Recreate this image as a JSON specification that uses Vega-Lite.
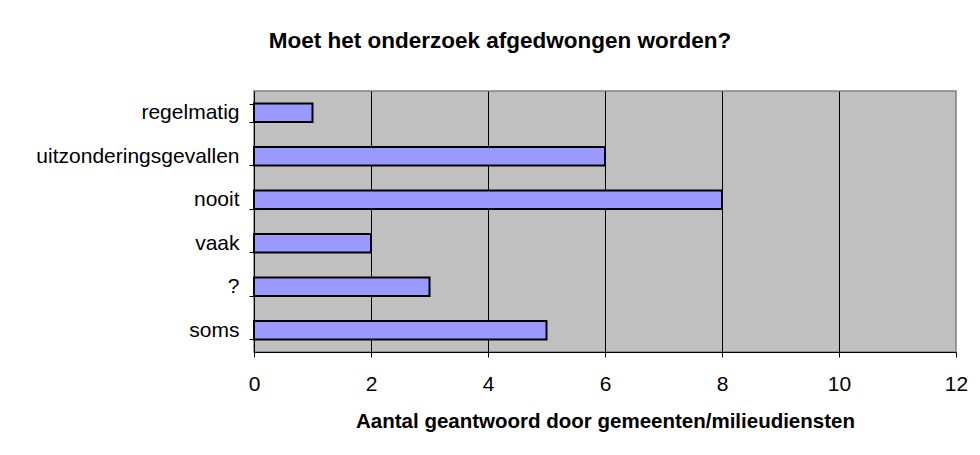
{
  "$schema": "https://vega.github.io/schema/vega-lite/v6.json",
  "autosize": {"type": "none"},
  "width": 702,
  "height": 261,
  "padding": {"left": 254, "top": 91, "right": 24, "bottom": 103},
  "background": "white",
  "title": {
    "text": "Moet het onderzoek afgedwongen worden?",
    "font": "Liberation Sans",
    "fontSize": 22.5,
    "fontWeight": "bold",
    "color": "black",
    "anchor": "middle",
    "dx": -105,
    "offset": 28
  },
  "data": {
    "values": [
      {"antwoord": "regelmatig", "aantal": 1},
      {"antwoord": "uitzonderingsgevallen", "aantal": 6},
      {"antwoord": "nooit", "aantal": 8},
      {"antwoord": "vaak", "aantal": 2},
      {"antwoord": "?", "aantal": 3},
      {"antwoord": "soms", "aantal": 5}
    ]
  },
  "mark": {"type": "bar", "color": "#9999FF", "stroke": "black", "strokeWidth": 2},
  "encoding": {
    "y": {
      "field": "antwoord",
      "type": "nominal",
      "sort": null,
      "scale": {"paddingInner": 0.58, "paddingOuter": 0.29},
      "axis": {
        "title": null,
        "tickBand": "extent",
        "domainColor": "black",
        "tickColor": "black",
        "tickSize": 5,
        "labelPadding": 10,
        "labelLimit": 400,
        "labelFont": "Liberation Sans",
        "labelFontSize": 21,
        "labelColor": "black",
        "grid": false
      }
    },
    "x": {
      "field": "aantal",
      "type": "quantitative",
      "scale": {"domain": [0, 12], "nice": false},
      "axis": {
        "title": "Aantal geantwoord door gemeenten/milieudiensten",
        "values": [0, 2, 4, 6, 8, 10, 12],
        "labelFlush": false,
        "grid": true,
        "gridColor": {"condition": {"test": "datum.value === 0 || datum.value === 12", "value": "transparent"}, "value": "black"},
        "gridOpacity": 1,
        "gridWidth": 1,
        "domainColor": "black",
        "tickColor": "black",
        "tickSize": 5,
        "labelPadding": 16,
        "labelFont": "Liberation Sans",
        "labelFontSize": 21,
        "labelColor": "black",
        "titleFont": "Liberation Sans",
        "titleFontSize": 20.5,
        "titleFontWeight": "bold",
        "titleColor": "black",
        "titlePadding": 17
      }
    }
  },
  "config": {
    "view": {"fill": "#C0C0C0", "stroke": "#808080", "strokeWidth": 1.5}
  }
}
